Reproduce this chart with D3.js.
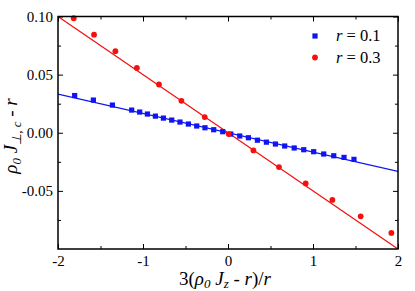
<!DOCTYPE html>
<html>
<head>
<meta charset="utf-8">
<script src="https://cdn.jsdelivr.net/npm/d3@7"></script>
<style>
  body { margin: 0; background: #fff; }
</style>
</head>
<body>
<script>
const W = 415, H = 291;
const margin = {top: 16.5, right: 17, bottom: 42, left: 58};
const width = W - margin.left - margin.right;
const height = H - margin.top - margin.bottom;
const FONT = "Liberation Serif";

// r = 0.1 (blue squares)
const blueX = [-1.804, -1.584, -1.360, -1.133, -1.039, -0.948, -0.854, -0.760, -0.662, -0.565,
  -0.466, -0.368, -0.271, -0.168, -0.062, 0.032, 0.138, 0.240, 0.346, 0.452,
  0.558, 0.667, 0.779, 0.891, 1.008, 1.126, 1.244, 1.365, 1.482];
const blueY = [0.0320, 0.0281, 0.0238, 0.0195, 0.0178, 0.0161, 0.0143, 0.0126, 0.0109, 0.0092,
  0.0075, 0.0058, 0.0043, 0.0026, 0.0009, -0.0011, -0.0028, -0.0043, -0.0064, -0.0081,
  -0.0097, -0.0114, -0.0131, -0.0146, -0.0163, -0.0183, -0.0198, -0.0212, -0.0229];
// r = 0.3 (red circles)
const redX = [-1.815, -1.576, -1.325, -1.072, -0.812, -0.548, -0.274, 0.008, 0.299, 0.600,
  0.914, 1.228, 1.561, 1.922];
const redY = [0.0985, 0.0844, 0.0702, 0.0558, 0.0415, 0.0275, 0.0135, -0.0011, -0.0152, -0.0295,
  -0.0436, -0.0578, -0.0719, -0.0862];
// fitted lines (end points)
const lineX = [-2, 2];
const blueLineY = [0.0333, -0.0333];
const redLineY = [0.1, -0.1];

const xTicks = [-2, -1, 0, 1, 2];
const xMinor = [-1.5, -0.5, 0.5, 1.5];
const yTicks = [-0.05, 0.00, 0.05, 0.10];
const yMinor = [-0.075, -0.025, 0.025, 0.075];

const blue = "#0f14f5", red = "#f50f0f";

const svg = d3.select("body").append("svg")
  .attr("width", W).attr("height", H)
  .attr("font-family", FONT);
const g = svg.append("g")
  .attr("transform", "translate(" + margin.left + "," + margin.top + ")");

const x = d3.scaleLinear().domain([-2, 2]).range([0, width]);
const y = d3.scaleLinear().domain([-0.1, 0.1]).range([height, 0]);

// clip for lines
g.append("clipPath").attr("id", "clip")
  .append("rect").attr("width", width).attr("height", height);

const line = d3.line().x(d => x(d[0])).y(d => y(d[1]));
g.append("path")
  .datum(d3.zip(lineX, blueLineY))
  .attr("d", line).attr("stroke", blue).attr("stroke-width", 1.2).attr("fill", "none")
  .attr("clip-path", "url(#clip)");
g.append("path")
  .datum(d3.zip(lineX, redLineY))
  .attr("d", line).attr("stroke", red).attr("stroke-width", 1.2).attr("fill", "none")
  .attr("clip-path", "url(#clip)");

g.selectAll(".sq").data(d3.zip(blueX, blueY)).enter().append("rect")
  .attr("class", "sq")
  .attr("x", d => x(d[0]) - 2.6).attr("y", d => y(d[1]) - 2.6)
  .attr("width", 5.2).attr("height", 5.2).attr("fill", blue);

g.selectAll(".dot").data(d3.zip(redX, redY)).enter().append("circle")
  .attr("class", "dot")
  .attr("cx", d => x(d[0])).attr("cy", d => y(d[1]))
  .attr("r", 2.9).attr("fill", red);

// axes (ticks inward)
function styleAxis(sel) {
  sel.attr("font-family", FONT).attr("font-size", 15);
  sel.select(".domain").remove();
  sel.selectAll(".tick line").attr("stroke", "#000").attr("stroke-width", 1);
  sel.selectAll("text").attr("fill", "#000");
}
const fmtY = d => d === 0 ? "0.00" : d3.format(".2f")(d).replace("−", "-");
const fmtX = d => String(d);

g.append("g").attr("transform", "translate(0," + height + ")")
  .call(d3.axisBottom(x).tickValues(xTicks).tickSize(-5).tickPadding(6).tickFormat(fmtX))
  .call(styleAxis);
g.append("g").attr("transform", "translate(0," + height + ")")
  .call(d3.axisBottom(x).tickValues(xMinor).tickSize(-3).tickFormat(""))
  .call(styleAxis);
g.append("g")
  .call(d3.axisTop(x).tickValues(xTicks).tickSize(-5).tickFormat(""))
  .call(styleAxis);
g.append("g")
  .call(d3.axisTop(x).tickValues(xMinor).tickSize(-3).tickFormat(""))
  .call(styleAxis);

g.append("g")
  .call(d3.axisLeft(y).tickValues(yTicks).tickSize(-5).tickPadding(5).tickFormat(fmtY))
  .call(styleAxis);
g.append("g")
  .call(d3.axisLeft(y).tickValues(yMinor).tickSize(-3).tickFormat(""))
  .call(styleAxis);
g.append("g").attr("transform", "translate(" + width + ",0)")
  .call(d3.axisRight(y).tickValues(yTicks).tickSize(-5).tickFormat(""))
  .call(styleAxis);
g.append("g").attr("transform", "translate(" + width + ",0)")
  .call(d3.axisRight(y).tickValues(yMinor).tickSize(-3).tickFormat(""))
  .call(styleAxis);

// frame
g.append("rect").attr("width", width).attr("height", height)
  .attr("fill", "none").attr("stroke", "#000").attr("stroke-width", 1.5);

// legend
const legend = g.append("g").attr("transform", "translate(" + (315 - margin.left) + "," + (36 - margin.top) + ")");
legend.append("rect").attr("x", -2.6).attr("y", -2.6).attr("width", 5.2).attr("height", 5.2).attr("fill", blue);
legend.append("circle").attr("cx", 0).attr("cy", 21.5).attr("r", 2.9).attr("fill", red);
const lt1 = legend.append("text").attr("x", 21).attr("y", 5).attr("font-size", 16.5);
lt1.append("tspan").attr("font-style", "italic").text("r");
lt1.append("tspan").text(" = 0.1");
const lt2 = legend.append("text").attr("x", 21).attr("y", 26.5).attr("font-size", 16.5);
lt2.append("tspan").attr("font-style", "italic").text("r");
lt2.append("tspan").text(" = 0.3");

// x title
const xt = svg.append("text").attr("x", 225).attr("y", 284.5).attr("text-anchor", "middle").attr("font-size", 19);
xt.append("tspan").text("3(");
xt.append("tspan").attr("font-style", "italic").text("ρ");
xt.append("tspan").attr("font-style", "italic").attr("font-size", 13).attr("dy", 3.5).text("0");
xt.append("tspan").attr("font-style", "italic").attr("dy", -3.5).text(" J");
xt.append("tspan").attr("font-style", "italic").attr("font-size", 13).attr("dy", 3.5).text("z");
xt.append("tspan").attr("dy", -3.5).text(" - ");
xt.append("tspan").attr("font-style", "italic").text("r");
xt.append("tspan").text(")/");
xt.append("tspan").attr("font-style", "italic").text("r");

// y title
const yt = svg.append("text").attr("transform", "translate(17,136) rotate(-90)")
  .attr("text-anchor", "middle").attr("font-size", 19);
yt.append("tspan").attr("font-style", "italic").text("ρ");
yt.append("tspan").attr("font-style", "italic").attr("font-size", 13).attr("dy", 3.5).text("0");
yt.append("tspan").attr("font-style", "italic").attr("dy", -3.5).text(" J");
yt.append("tspan").attr("font-style", "italic").attr("font-size", 13).attr("dy", 3.5).text("⊥, c");
yt.append("tspan").attr("dy", -3.5).text(" - ");
yt.append("tspan").attr("font-style", "italic").text("r");
</script>
</body>
</html>
